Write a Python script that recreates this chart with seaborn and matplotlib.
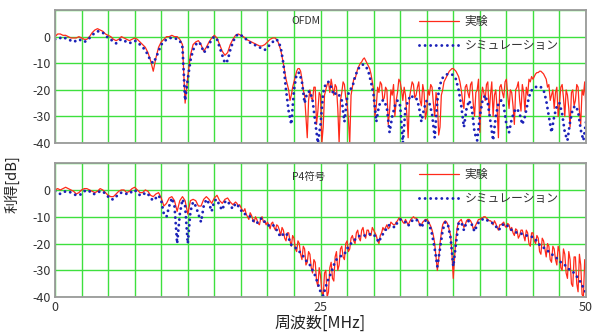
import numpy as np
import pandas as pd
import seaborn as sns
import matplotlib
matplotlib.use("Agg")
import matplotlib.pyplot as plt

sns.set_theme(style="white")
plt.rcParams["font.family"] = ["Noto Sans CJK JP", "DejaVu Sans"]

# simulation grid, 0.25 MHz step (one row = 1 MHz)
freq = np.linspace(0, 50, 201)

# measured data: coarse grid where smooth, 0.125 MHz where noisy
ofdm_f_low = np.linspace(0, 21.75, 88)
ofdm_f_high = np.linspace(22, 50, 225)
p4_f_low = np.linspace(0, 16.75, 68)
p4_f_high = np.linspace(17, 50, 265)

# OFDM, measured (dB)
ofdm_meas_low = [
    0, 1, 1, 0.5,  0.5, 0, -0.5, -0.5,  -0.5, 0, -0.5, -1,  -1, 0, 1.5, 2.5,
    3, 2.5, 2, 1,  0.5, 0, -1, -1.5,  -1, 0, -0.5, -1,  -1.5, -1, -0.5, -1,
    -2, -3, -4, -6,  -9, -13, -8, -4,  -2, -1, 0, 0,  0.5, 0, 0, -1,
    -3, -25, -15, -7,  -3, -2, -1.5, -3,  -5.5, -4, -2, -0.5,  0.5, -0.5, -3, -5.5,
    -7, -6, -3, -1,  0.5, 1, 0.5, 0,  -1, -1.5, -2, -2.5,  -3, -3.5, -3.5, -3,
    -2, -1, -0.5, -0.5,  -2, -5, -10, -16,
]
ofdm_meas_high = [
    -20, -24, -22, -19, -17, -15, -13, -12,
    -12, -13, -16, -20, -22, -30, -38, -24,
    -20, -23, -24, -19, -19, -33, -28, -21,
    -22, -40, -34, -22, -20, -18, -17, -21,
    -16, -19, -22, -18, -19, -27, -40, -24,
    -21, -17, -18, -23, -25, -31, -40, -22,
    -19, -16, -16, -14, -12, -11, -10, -9.5,
    -8.5, -8, -9, -10, -11, -12, -14, -17,
    -20, -30, -26, -19, -21, -17, -18, -24,
    -23, -19, -20, -33, -28, -20, -22, -18,
    -30, -24, -21, -16, -17, -20, -24, -19,
    -22, -29, -38, -23, -20, -17, -18, -23,
    -22, -19, -17, -24, -26, -18, -21, -31,
    -28, -20, -22, -18, -19, -25, -30, -21,
    -24, -37, -34, -22, -20, -17, -16, -15,
    -14, -13, -12.5, -12, -12, -12.5, -13, -14,
    -15, -17, -20, -24, -27, -19, -18, -21,
    -23, -18, -17, -25, -30, -21, -20, -16,
    -36, -24, -19, -21, -24, -18, -17, -29,
    -22, -17, -30, -22, -20, -27, -38, -19,
    -18, -21, -23, -17, -16, -22, -27, -20,
    -21, -26, -33, -20, -19, -17, -24, -28,
    -18, -21, -28, -19, -22, -16, -17, -15,
    -16, -15, -14, -13.5, -13.5, -13, -13, -13.5,
    -14, -15, -16, -19, -18, -24, -22, -20,
    -27, -21, -19, -30, -25, -19, -18, -23,
    -30, -20, -22, -27, -34, -21, -20, -26,
    -24, -18, -19, -28, -33, -20, -22, -17,
    -28,
]
# OFDM, simulation (dB)
ofdm_sim = [
    -1, -0.5, -0.5, -1,  -0.5, -1, -1.5, -2,  -1.5, -1, -1.5, -2,  -1.5, -0.5, 0.5, 1.5,
    2, 2, 1.5, 0.5,  -0.5, -1, -2, -2.5,  -1.5, -1, -1.5, -2,  -2.5, -2, -1.5, -2,
    -3, -4, -5, -7,  -9, -10, -8, -5.5,  -3, -2, -1, -0.5,  -0.5, -0.5, -1, -1.5,
    -4, -24, -16, -9,  -5, -3, -2, -3,  -6, -5, -3, -1,  0, -1, -4, -7,
    -10, -9, -5, -2,  0, 1, 0.5, 0,  -1, -2, -2.5, -3,  -3.5, -4, -4.5, -5,
    -4, -3, -2, -1,  -1.5, -4, -10, -20,  -28, -33, -20, -14,  -13.5, -17, -25, -21,
    -20.5, -24, -32, -40,  -33, -21, -17.5, -17,  -19, -22, -21, -22,  -24, -32, -23, -20,
    -19, -15, -12.5, -11,  -10.5, -11, -13, -17,  -22, -32, -26, -24,  -24, -27, -36, -30,
    -26, -24, -26, -40,  -27, -24, -22, -23,  -23, -26, -32, -27,  -24, -25, -29, -38,
    -24, -18, -15.5, -14.5,  -14, -14, -14.5, -16,  -20, -26, -34, -27,  -24, -27, -36, -39,
    -30, -24, -22, -25,  -32, -39, -30, -25,  -24, -26, -33, -36,  -31, -28, -27, -29,
    -33, -30, -25, -21,  -19.5, -19, -18.5, -19,  -20, -24, -30, -36,  -30, -26, -25, -29,
    -36, -39, -32, -27,  -26, -28, -35, -39,  -32,
]

# P4 code, measured (dB)
p4_meas_low = [
    0, 0.5, 0, 0.5,  1, 0.5, 0, -0.5,  -1.5, -1, 0, 0.5,  0.5, 0, -0.5, -1,
    -0.5, 0.5, 0, -1,  -2, -2.5, -2.5, -1.5,  -0.5, 0, 0, -1,  -0.5, 0.5, 1, 0,
    -1, -1, 0, -0.5,  -2, -2.5, -1.5, -1,  -3, -6, -5, -3,  -2.5, -4, -8, -4,
    -2.5, -4, -9, -4,  -3.5, -4, -6, -6,  -3.5, -2.5, -3.5, -5,  -3, -2, -4, -5,
    -3.5, -3, -4.5, -5.5,
]
p4_meas_high = [
    -4.5, -5, -6, -5.5, -6.5, -7.5, -8, -7,
    -9, -10, -11, -8.5, -9.5, -11, -12, -10,
    -11, -12.5, -13, -10.5, -10, -12, -11.5, -13,
    -12, -13, -14.5, -12.5, -12, -14, -15, -13,
    -13.5, -15, -17, -14, -15, -18, -19, -16,
    -16, -19, -21, -17, -18, -22, -23, -19,
    -20, -24, -26, -21, -22, -28, -27, -23,
    -24, -29, -31, -26, -27, -34, -36, -29,
    -32, -38, -40, -31, -30, -40, -38, -29,
    -27, -33, -34, -25, -23, -30, -28, -22,
    -21, -25, -26, -20, -19, -23, -22, -18,
    -17, -19, -20, -16, -15, -18, -19, -15,
    -14, -17, -18, -15, -15, -17, -17, -14,
    -15, -16, -17, -19, -20, -17, -16, -14,
    -15, -14, -13, -14.5, -14, -12, -12.5, -13,
    -13, -12, -11.5, -10.5, -10.5, -11, -12, -12.5,
    -11, -12, -13, -12, -11, -10.5, -10, -10.5,
    -10.5, -11, -12, -13.5, -13, -12, -11.5, -11,
    -11, -11.5, -12.5, -13.5, -15, -17, -20, -25,
    -30, -26, -20, -16, -13, -12, -11.5, -12,
    -13, -15, -17, -24, -33, -25, -18, -14,
    -12, -11.5, -11, -12.5, -14, -13, -11.5, -11,
    -11, -11.5, -12.5, -14.5, -14, -13, -12, -11,
    -11, -10.5, -10.5, -10, -10, -10.5, -11, -11.5,
    -11.5, -12, -13, -11.5, -12.5, -14, -15, -13,
    -13, -12.5, -12, -13.5, -14, -12.5, -13, -15,
    -14, -16, -17, -14.5, -15, -18, -17, -15,
    -15, -17, -19, -15, -16, -20, -21, -16,
    -16, -19, -20, -17, -18, -23, -24, -18,
    -19, -22, -25, -20, -21, -26, -27, -21,
    -22, -26, -28, -21, -23, -29, -30, -22,
    -24, -31, -33, -23, -26, -35, -36, -25,
    -25, -35, -38, -24, -28, -39, -40, -26,
    -30,
]
# P4 code, simulation (dB)
p4_sim = [
    -0.5, -1, -1.5, -1,  -0.5, -0.5, -1, -1.5,  -2, -2, -1.5, -0.5,  0, -0.5, -1.5, -1.5,
    -1, -0.5, -0.5, -1.5,  -2.5, -3.5, -3.5, -2.5,  -1.5, -1, -1, -1.5,  -1.5, -0.5, 0, -1,
    -2, -2, -1, -1.5,  -3, -4, -3, -2,  -4, -9, -10, -6,  -3, -6, -20, -9,
    -3.5, -6, -20, -8,  -4.5, -6, -9, -12,  -6, -3.5, -5, -8,  -4, -3.5, -6, -7.5,
    -4.5, -4, -6, -7,  -5, -6, -7.5, -9,  -9, -9.5, -10.5, -12,  -12.5, -11, -10.5, -12,
    -13, -13.5, -13, -14,  -16, -17.5, -16.5, -16,  -18, -20.5, -21, -22,  -23, -24, -25.5, -27,
    -28, -30, -32, -35,  -38, -39.5, -36, -33,  -31, -28, -26, -25,  -24.5, -24, -22, -20.5,
    -19.5, -18.5, -17.5, -17,  -17, -17, -16.5, -16.5,  -16.5, -18, -19.5, -17,  -16, -14, -13, -13.5,
    -14, -12, -11, -11.5,  -12, -13.4, -12, -11,  -11, -12, -14, -12,  -11, -13, -16.5, -22,
    -28.5, -22, -15, -12,  -13, -18, -28.5, -20,  -12.5, -12, -15, -12,  -11.5, -13, -15.5, -13,
    -11.5, -11, -10.7, -11.5,  -12, -12.5, -13.5, -15,  -14, -12.6, -13, -14,  -15, -15.5, -16, -16,
    -16.5, -17, -17, -17.5,  -17.5, -18.5, -20, -21,  -21.5, -22.5, -23, -24,  -24.5, -25.5, -26.5, -27.5,
    -28, -29, -30, -30.5,  -31.5, -33, -34.5, -36.5,  -38.5,
]

panel_names = ["OFDM", "P4符号"]
series_labels = ["実験", "シミュレーション"]
ytick_vals = [0, -10, -20, -30, -40]
xtick_vals = [0, 25, 50]

red = "#ff2a1a"
blue = "#1c22b8"
grid_green = "#3ee03e"

fig = plt.figure(figsize=(5.98, 3.35), dpi=100)
ax1 = fig.add_axes([0.092, 0.573, 0.888, 0.397])
ax2 = fig.add_axes([0.092, 0.113, 0.888, 0.400])

panels = [
    (ax1, np.concatenate([ofdm_f_low, ofdm_f_high]), ofdm_meas_low + ofdm_meas_high, ofdm_sim),
    (ax2, np.concatenate([p4_f_low, p4_f_high]), p4_meas_low + p4_meas_high, p4_sim),
]
for i, (ax, fm, meas, sim) in enumerate(panels):
    dm = pd.DataFrame({"f": fm, "dB": meas})
    ds = pd.DataFrame({"f": freq, "dB": sim})
    sns.lineplot(data=dm, x="f", y="dB", ax=ax, color=red, linewidth=0.9,
                 label=series_labels[0])
    sns.lineplot(data=ds, x="f", y="dB", ax=ax, color=blue, linewidth=2.1,
                 linestyle=(0, (0.01, 1.9)), dash_capstyle="round",
                 label=series_labels[1])
    ax.set_xlim(0, 50)
    ax.set_ylim(-40, 10)
    ax.set_xticks(np.arange(0, 50.1, 2.5), minor=True)
    ax.set_xticks(xtick_vals)
    ax.set_yticks(ytick_vals + [10])
    ax.set_yticklabels([str(v) for v in ytick_vals] + [""], fontsize=9, color="#333333")
    ax.grid(True, which="both", axis="x", color=grid_green, linewidth=1.0)
    ax.grid(True, which="major", axis="y", color=grid_green, linewidth=1.0)
    ax.tick_params(axis="both", which="both", length=0, pad=3)
    ax.set_xlabel("")
    ax.set_ylabel("")
    for s in ax.spines.values():
        s.set_color("#9a9a9a")
        s.set_linewidth(1.3)
    ax.text(0.446, 0.92 if i == 0 else 0.90, panel_names[i], transform=ax.transAxes,
            fontsize=7.5, color="#333333", va="center")
    leg = ax.legend(loc="upper left", bbox_to_anchor=(0.665, 1.04), frameon=False,
                    fontsize=8.5, handlelength=3.4, labelspacing=0.9, handletextpad=0.5)
    for t in leg.get_texts():
        t.set_color("#333333")

ax1.set_xticklabels([])
ax2.set_xticklabels([str(v) for v in xtick_vals], fontsize=9, color="#333333")

fig.text(0.02, 0.45, "利得[dB]", rotation=90, ha="center", va="center",
         fontsize=10.5, color="#222222")
fig.text(0.535, 0.035, "周波数[MHz]", ha="center", va="center",
         fontsize=11.5, color="#222222")

fig.savefig("out.png", dpi=100)
